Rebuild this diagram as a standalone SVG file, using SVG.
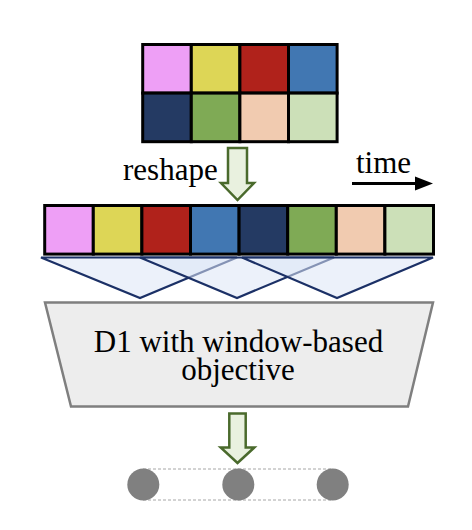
<svg xmlns="http://www.w3.org/2000/svg" width="472" height="530" viewBox="0 0 472 530">
<defs>
<style>
.cell{stroke:#000;stroke-width:3}
.tri{fill:#DCE6F5;fill-opacity:0.55;stroke:#1B3066;stroke-width:2.2;stroke-linejoin:miter}
.arr{fill:#E9F1DF;stroke:#4A6A2C;stroke-width:2.5;stroke-linejoin:miter}
.lbl{font-family:"Liberation Serif","Times New Roman",serif;font-size:31px;fill:#000}
.dot{fill:#808080}
</style>
<marker id="ah" markerWidth="10" markerHeight="8" refX="9" refY="4" orient="auto" markerUnits="userSpaceOnUse"><path d="M0,0 L10,4 L0,8 Z" fill="#000"/></marker>
</defs>
<rect width="472" height="530" fill="#fff"/>

<g id="grid2x4">
<rect class="cell" x="142.7" y="44.5" width="48.6" height="48.6" fill="#EE9FF6"/>
<rect class="cell" x="191.3" y="44.5" width="48.6" height="48.6" fill="#DDD656"/>
<rect class="cell" x="239.9" y="44.5" width="48.6" height="48.6" fill="#B0221B"/>
<rect class="cell" x="288.5" y="44.5" width="48.6" height="48.6" fill="#4177B2"/>
<rect class="cell" x="142.7" y="93.1" width="48.6" height="48.6" fill="#243A63"/>
<rect class="cell" x="191.3" y="93.1" width="48.6" height="48.6" fill="#7FAA55"/>
<rect class="cell" x="239.9" y="93.1" width="48.6" height="48.6" fill="#F1CBB0"/>
<rect class="cell" x="288.5" y="93.1" width="48.6" height="48.6" fill="#CCE0B8"/>
</g>

<g id="reshape">
<path class="arr" d="M228,148 H247 V183 H254 L237.5,200 L221,183 H228 Z"/>
<text class="lbl" x="123" y="180">reshape</text>
</g>

<g id="time">
<text class="lbl" x="356" y="173">time</text>
<line x1="352" y1="183.5" x2="424" y2="183.5" stroke="#000" stroke-width="3"/>
<path d="M415,176.5 L433,183.5 L415,190.5 Z" fill="#000"/>
</g>

<g id="sequence">
<rect class="cell" x="44.7" y="205.5" width="48.6" height="48.6" fill="#EE9FF6"/>
<rect class="cell" x="93.3" y="205.5" width="48.6" height="48.6" fill="#DDD656"/>
<rect class="cell" x="141.9" y="205.5" width="48.6" height="48.6" fill="#B0221B"/>
<rect class="cell" x="190.5" y="205.5" width="48.6" height="48.6" fill="#4177B2"/>
<rect class="cell" x="239.1" y="205.5" width="48.6" height="48.6" fill="#243A63"/>
<rect class="cell" x="287.7" y="205.5" width="48.6" height="48.6" fill="#7FAA55"/>
<rect class="cell" x="336.3" y="205.5" width="48.6" height="48.6" fill="#F1CBB0"/>
<rect class="cell" x="384.9" y="205.5" width="48.6" height="48.6" fill="#CCE0B8"/>
</g>

<g id="windows">
<polygon class="tri" points="41,257.5 237,257.5 140,298"/>
<polygon class="tri" points="140,257.5 334,257.5 237,298"/>
<polygon class="tri" points="242,257.5 433,257.5 337,298"/>
</g>

<g id="d1">
<polygon points="45,302.5 433,302.5 408,406.5 71,406.5" fill="#EDEDED" stroke="#7F7F7F" stroke-width="2.5"/>
<text class="lbl" x="238.5" y="351.5" text-anchor="middle">D1 with window-based</text>
<text class="lbl" x="238" y="379.5" text-anchor="middle">objective</text>
</g>

<g id="output-arrow">
<path class="arr" d="M229.3,413.5 H245.7 V447.5 H254.3 L237.5,463 L220.7,447.5 H229.3 Z"/>
</g>

<g id="outputs">
<line x1="143" y1="469" x2="333" y2="469" stroke="#A6A6A6" stroke-width="1" stroke-dasharray="3,2"/>
<line x1="143" y1="500" x2="333" y2="500" stroke="#A6A6A6" stroke-width="1" stroke-dasharray="3,2"/>
<circle class="dot" cx="143.3" cy="484.5" r="16"/>
<circle class="dot" cx="238.3" cy="484.5" r="16"/>
<circle class="dot" cx="332.7" cy="484.5" r="16"/>
</g>
</svg>
